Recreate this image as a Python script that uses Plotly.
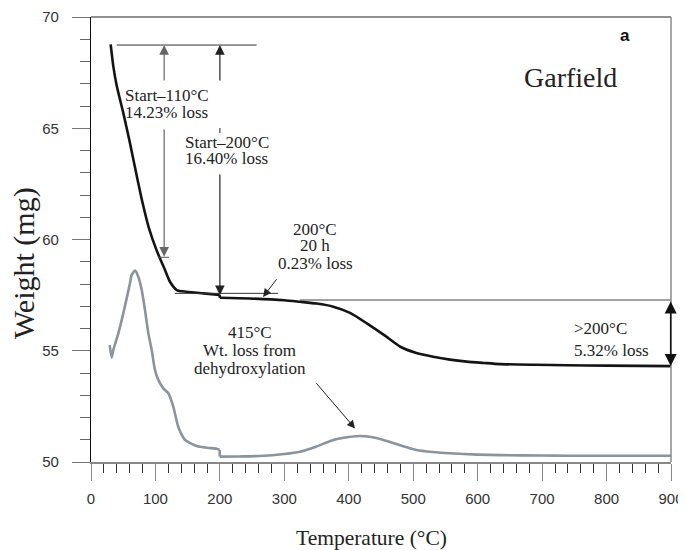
import plotly.graph_objects as go

# ---- data ----
black_T = [30.5, 34.7, 40, 50, 60, 70, 80, 90, 102, 114.8, 122.6, 133, 148.5, 174.3,
           199.5, 200, 246, 300, 324, 350, 376, 402, 428, 455, 480, 505, 531, 557, 583, 610, 635,
           690, 738, 800, 900]
black_W = [68.77, 67.77, 66.9, 65.7, 64.4, 63.0, 61.65, 60.5, 59.5, 58.63, 58.1, 57.73,
           57.65, 57.58, 57.51, 57.38, 57.35, 57.27, 57.2, 57.12, 56.98, 56.7, 56.23, 55.7, 55.18,
           54.9, 54.73, 54.6, 54.51, 54.45, 54.40, 54.37, 54.35, 54.33, 54.31]

gray_T = [29, 32, 34.6, 42.4, 50.1, 60.5, 63, 68.3, 73.4, 78.7, 83.8, 89, 94.2, 99.3, 104.5, 112.2,
          120, 127.7, 135.5, 146, 164, 180, 195, 199.5, 200, 230, 262, 300, 324, 350, 376, 400, 417,
          435, 453.6, 480, 505, 530, 557, 600, 635, 700, 738, 800, 900]
gray_W = [55.25, 54.7, 55.03, 55.78, 56.68, 58.03, 58.4, 58.6, 58.33, 57.73, 56.83, 55.78, 55.03,
          54.13, 53.69, 53.31, 53.09, 52.49, 51.57, 50.99, 50.72, 50.64, 50.6, 50.55, 50.24, 50.25,
          50.27, 50.36, 50.46, 50.7, 50.99, 51.12, 51.17, 51.12, 50.99, 50.75, 50.54, 50.45, 50.39,
          50.33, 50.31, 50.29, 50.28, 50.28, 50.28]

x_ticks = [0, 100, 200, 300, 400, 500, 600, 700, 800, 900]
y_ticks = [50, 55, 60, 65, 70]

SERIF = "Liberation Serif, Times New Roman, serif"
SANS = "Liberation Sans, Arial, sans-serif"

fig = go.Figure()


def add_curve(T, W, color):
    # split at the 200 °C step so the smooth spline does not overshoot the step
    k = T.index(200)
    for xs, ys, shape in ((T[:k], W[:k], "spline"), (T[k - 1:k + 1], W[k - 1:k + 1], "linear"),
                          (T[k:], W[k:], "spline")):
        fig.add_trace(go.Scatter(x=xs, y=ys, mode="lines", hoverinfo="skip",
                                 line=dict(color=color, width=2.6, shape=shape, smoothing=0.6)))


add_curve(gray_T, gray_W, "#8b939b")
add_curve(black_T, black_W, "#141414")


def hline(x0, x1, y, color="#333", w=1):
    fig.add_shape(type="line", x0=x0, x1=x1, y0=y, y1=y, xref="x", yref="y",
                  line=dict(color=color, width=w))


def vline(x, y0, y1, color="#333", w=1):
    fig.add_shape(type="line", x0=x, x1=x, y0=y0, y1=y1, xref="x", yref="y",
                  line=dict(color=color, width=w))


hline(40, 257, 68.74)
hline(104, 121, 59.2, color="#555")
hline(130, 290, 57.58)
hline(324, 900, 57.28, color="#444")
vline(200, 65.01, 64.79, color="#222")


def arrow(x, y, ax, ay, color="#222", w=1.2, side="end"):
    fig.add_annotation(x=x, y=y, ax=ax, ay=ay, xref="x", yref="y", axref="x", ayref="y",
                       showarrow=True, arrowhead=2, arrowsize=1.6, arrowwidth=w,
                       arrowcolor=color, arrowside=side, text="", standoff=0, startstandoff=0)


arrow(113.5, 68.74, 113.5, 67.08, color="#666")
arrow(113.5, 59.23, 113.5, 65.01, color="#666")
arrow(200, 68.74, 200, 67.08, color="#222")
arrow(200, 57.5, 200, 62.99, color="#222")
arrow(267, 57.42, 289.7, 58.28, color="#222", w=1)
arrow(409.7, 51.51, 347.6, 53.61, color="#222", w=1)
arrow(899.5, 54.31, 899.5, 57.28, color="#111", w=1.5, side="end+start")


def label(x, y, text, anchor="left", size=17, font=SERIF, color="#222", bold=False):
    fig.add_annotation(x=x, y=y, xref="x", yref="y", text=("<b>%s</b>" % text) if bold else text,
                       showarrow=False, xanchor=anchor, yanchor="middle",
                       font=dict(family=font, size=size, color=color))


label(49, 66.45, "Start–110°C")
label(49, 65.73, "14.23% loss")
label(142, 64.38, "Start–200°C")
label(142, 63.66, "16.40% loss")
label(347.6, 60.47, "200°C", anchor="center")
label(347.6, 59.71, "20 h", anchor="center")
label(347.6, 58.94, "0.23% loss", anchor="center")
label(246.7, 55.80, "415°C", anchor="center")
label(246.7, 54.99, "Wt. loss from", anchor="center")
label(246.7, 54.22, "dehydroxylation", anchor="center")
label(747, 56.02, ">200°C")
label(747, 54.99, "5.32% loss")
label(743.3, 67.26, "Garfield", anchor="center", size=28)
label(828.6, 69.19, "a", anchor="center", size=17, font=SANS, color="#111", bold=True)

# axis titles as annotations (keeps margins fixed)
fig.add_annotation(x=-0.1155, y=0.447, xref="paper", yref="paper", text="Weight (mg)", textangle=-90,
                   showarrow=False, xanchor="center", yanchor="middle",
                   font=dict(family=SERIF, size=30, color="#222"))
fig.add_annotation(x=0.4828, y=-0.1708, xref="paper", yref="paper", text="Temperature (°C)",
                   showarrow=False, xanchor="center", yanchor="middle",
                   font=dict(family=SERIF, size=21.5, color="#222"))

# frame: top (black) and right (gray)
fig.add_shape(type="line", xref="paper", yref="paper", x0=0, x1=1, y0=1, y1=1,
              line=dict(color="#222", width=1.2))
fig.add_shape(type="line", xref="paper", yref="paper", x0=1, x1=1, y0=0, y1=1,
              line=dict(color="#888", width=1.5))

# page body has an 8px margin, so the figure is 8px smaller than the window each way
fig.update_layout(
    width=678, height=542,
    margin=dict(l=83, r=15, t=9, b=88),
    plot_bgcolor="white", paper_bgcolor="white",
    showlegend=False,
    xaxis=dict(range=[0, 900], tickvals=x_ticks, ticks="outside", ticklen=17, tickwidth=1.2,
               tickcolor="#888", showline=True, linecolor="#888", linewidth=1.5, showgrid=False,
               zeroline=False, ticklabelstandoff=5, automargin=False,
               tickfont=dict(family=SANS, size=15, color="#333"),
               minor=dict(dtick=20, ticks="outside", ticklen=9, tickcolor="#333", tickwidth=1.1,
                          showgrid=False)),
    yaxis=dict(range=[50, 70], tickvals=y_ticks, ticks="outside", ticklen=18, tickwidth=1.2,
               tickcolor="#777", showline=True, linecolor="#111", linewidth=1.3, showgrid=False,
               zeroline=False, ticklabelstandoff=10, automargin=False,
               tickfont=dict(family=SANS, size=15, color="#333"),
               minor=dict(dtick=1, ticks="outside", ticklen=10, tickcolor="#666", tickwidth=1.2,
                          showgrid=False)),
)

fig.write_html("out.html")
